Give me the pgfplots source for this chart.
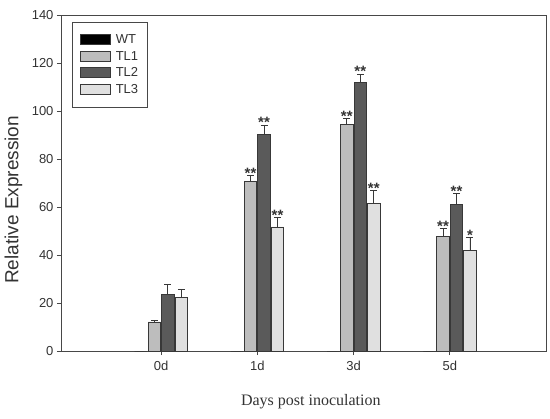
\documentclass[border=0pt]{standalone}
\usepackage{pgfplots}
\pgfplotsset{compat=1.18}
\usepackage{fontspec}
\setmainfont{Liberation Sans}
\newfontfamily\timesfont{Liberation Serif}
\definecolor{axc}{HTML}{474747}
\definecolor{tlone}{HTML}{BDBDBD}
\definecolor{tltwo}{HTML}{5A5A5A}
\definecolor{tlthree}{HTML}{E0E0E0}
\definecolor{edge}{HTML}{383838}
\definecolor{txt}{HTML}{333333}

\pgfplotsset{myerr/.style={
  error bars/y dir=plus, error bars/y explicit,
  error bars/error bar style={edge, line width=0.8pt},
  error bars/error mark options={rotate=90, mark size=3.5pt, edge, line width=0.8pt}}}

\pgfplotstableread{
x y err
-0.21 0 0
0.79 0 0
1.79 0 0
2.79 0 0
}\wt
\pgfplotstableread{
x y err
-0.07 12.1 0.8
0.93 70.8 2.2
1.93 94.5 2.3
2.93 47.6 3.4
}\tlA
\pgfplotstableread{
x y err
0.07 23.5 4.3
1.07 90.1 4.1
2.07 112.0 3.4
3.07 61.25 4.45
}\tlB
\pgfplotstableread{
x y err
0.21 22.4 3.4
1.21 51.7 4.0
2.21 61.4 5.4
3.21 41.8 5.4
}\tlC
\pgfplotstableread{
x y label
0.93 73.0 {**}
1.07 94.2 {**}
1.21 55.7 {**}
1.93 96.8 {**}
2.07 115.4 {**}
2.21 66.8 {**}
2.93 51.0 {**}
3.07 65.7 {**}
3.21 47.2 {*}
}\stars

\begin{document}
\begin{tikzpicture}
\begin{axis}[
  name=ax,
  scale only axis, width=485pt, height=336pt,
  xmin=-1.04, xmax=4, ymin=0, ymax=140,
  ytick={0,20,...,140},
  xtick={0,1,2,3}, xticklabels={0d,1d,3d,5d},
  tick align=outside, major tick length=4pt,
  xtick pos=bottom, ytick pos=left,
  axis line style={axc, line width=0.9pt},
  tick style={axc, line width=0.9pt},
  ticklabel style={font=\fontsize{13}{15}\selectfont, text=txt},
  xticklabel style={yshift=-3pt},
  /pgf/number format/assume math mode=true,
  xlabel={\timesfont Days post inoculation},
  ylabel={Relative Expression},
  every axis x label/.style={at={(axis description cs:0.515,-0.151)}, anchor=center, font=\fontsize{16}{18}\selectfont, text=txt},
  every axis y label/.style={at={(axis description cs:-0.098,0.45)}, rotate=90, anchor=center, font=\fontsize{19}{22}\selectfont, text=txt},
  ybar, bar width=0.13,
  legend style={at={(axis description cs:0.0227,0.98)}, anchor=north west,
    draw=axc, line width=0.9pt, inner xsep=8pt, inner ysep=11pt,
    font=\fontsize{13}{15}\selectfont, text=txt, row sep=3pt,
    nodes={inner sep=1.5pt}},
  legend cell align=left,
  legend image code/.code={\draw[#1, line width=0.8pt] (0pt,-5pt) rectangle (30pt,5pt);},
]
\addplot[bar shift=0pt, fill=black, draw=edge, line width=0.8pt, myerr] table[x=x, y=y, y error=err] {\wt};
\addlegendentry{\hspace{3pt}WT}
\addplot[bar shift=0pt, fill=tlone, draw=edge, line width=0.8pt, myerr] table[x=x, y=y, y error=err] {\tlA};
\addlegendentry{\hspace{3pt}TL1}
\addplot[bar shift=0pt, fill=tltwo, draw=edge, line width=0.8pt, myerr] table[x=x, y=y, y error=err] {\tlB};
\addlegendentry{\hspace{3pt}TL2}
\addplot[bar shift=0pt, fill=tlthree, draw=edge, line width=0.8pt, myerr] table[x=x, y=y, y error=err] {\tlC};
\addlegendentry{\hspace{3pt}TL3}
\addplot[forget plot, bar shift=0pt, draw=none, fill=none,
  nodes near coords, point meta=explicit symbolic,
  every node near coord/.append style={font=\bfseries\fontsize{15}{16}\selectfont, text=txt, inner sep=0pt, anchor=south, yshift=-3pt}]
  table[x=x, y=y, meta=label] {\stars};
\end{axis}
\pgfresetboundingbox
\path[use as bounding box] ([xshift=-61pt,yshift=-67pt]ax.south west) rectangle ([xshift=4pt,yshift=15pt]ax.north east);
\end{tikzpicture}
\end{document}
